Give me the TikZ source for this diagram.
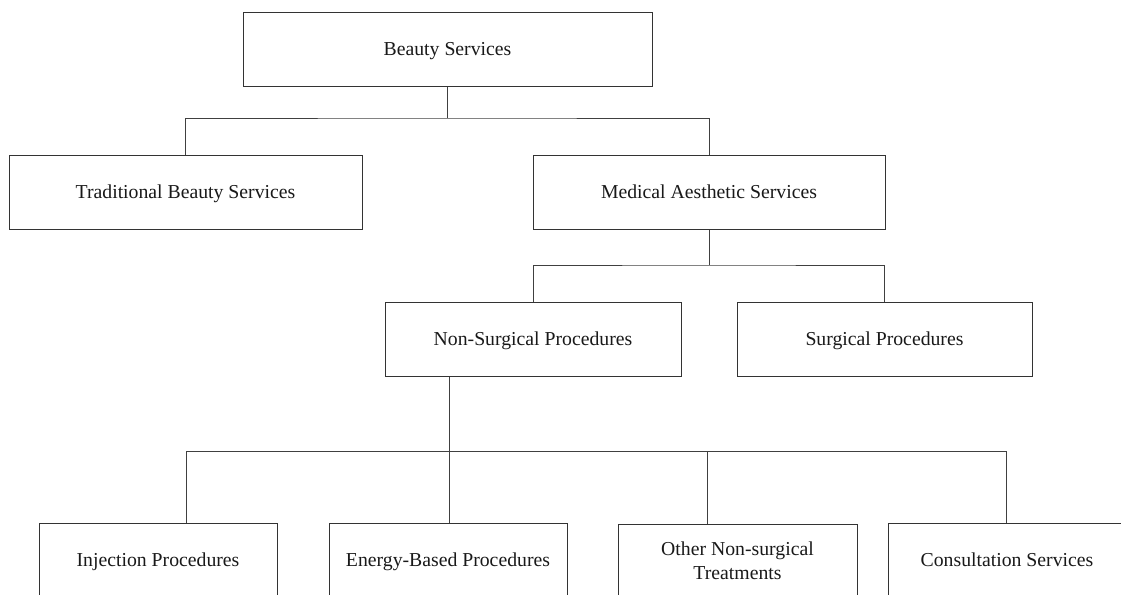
\documentclass[tikz,border=0pt]{standalone}
\usepackage{fontspec}
\setmainfont{Liberation Serif}
\begin{document}
\begin{tikzpicture}[x=0.75pt,y=-0.75pt,
  boxbase/.style={draw=black!80,line width=0.75pt,rectangle,inner sep=0pt,
    minimum height=55.5pt,align=center,
    font=\fontsize{14.8}{18}\selectfont,text=black!90},
  box/.style={boxbase,text height=12pt,text depth=2pt},
  link/.style={draw=black!75,line width=0.75pt}]
\useasboundingbox (0,0) rectangle (1121,594);
\fill[white] (0,0) rectangle (1121,594);
% nodes
\node[box,minimum width=306.75pt] (top) at (447.5,49) {Beauty Services};
\node[box,minimum width=264.75pt] (trad) at (185.5,192) {Traditional Beauty Services};
\node[box,minimum width=264pt] (med) at (709,192) {Medical Aesthetic Services};
\node[box,minimum width=222pt] (nons) at (533,339) {Non-Surgical Procedures};
\node[box,minimum width=221.25pt] (surg) at (884.5,339) {Surgical Procedures};
\node[box,minimum width=178.5pt] (inj) at (158,560) {Injection Procedures};
\node[box,minimum width=178.5pt] (ener) at (448,560) {Energy-Based Procedures};
\node[boxbase,minimum width=179.25pt] (oth) at (737.5,561) {Other Non-surgical\\Treatments};
\node[box,minimum width=178.5pt] (cons) at (1007,560) {Consultation Services};
% bars
\coordinate (b1) at (447,118);
\coordinate (b2) at (709,265);
\coordinate (b3) at (449,451);
% connectors
\draw[link] (top.south -| b1) -- (b1);
\draw[link] (trad.north) |- (b1) -| (med.north);
\draw[link] (med.south -| b2) -- (b2);
\draw[link] (nons.north) |- (b2) -| (surg.north);
\draw[link] (nons.south -| b3) -- (b3);
\coordinate (l1) at (186,451);
\coordinate (l3) at (707,451);
\coordinate (l4) at (1006,451);
\draw[link] (inj.north -| l1) -- (l1) -- (l4) -- (cons.north -| l4);
\draw[link] (ener.north -| b3) -- (b3);
\draw[link] (oth.north -| l3) -- (l3);
\end{tikzpicture}
\end{document}
